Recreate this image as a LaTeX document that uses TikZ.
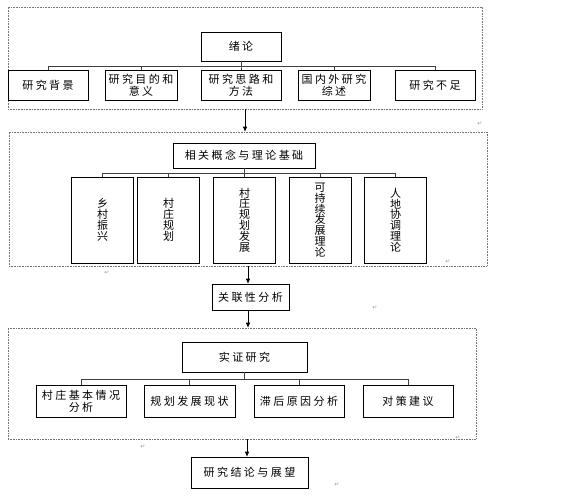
\documentclass[tikz,border=0pt]{standalone}
\usepackage{fontspec}
\usetikzlibrary{arrows.meta}
\newfontfamily\cjk[LetterSpace=22]{Noto Sans CJK SC}
\newfontfamily\cjkv{Noto Sans CJK SC}
\newfontfamily\symf{DejaVu Sans}
\begin{document}
\begin{tikzpicture}[x=1pt,y=-1pt,
  box/.style={draw, line width=0.6pt, inner sep=0pt, align=center,
    font=\cjk\fontsize{11}{12}\selectfont},
  vbox/.style={draw, line width=0.6pt, inner sep=0pt, align=center,
    minimum width=62pt, minimum height=86pt,
    font=\cjkv\fontsize{11}{10.8}\selectfont},
  frame/.style={draw=black!55, densely dotted, line width=0.6pt, inner sep=0pt},
  bus/.style={draw=black!75, line width=0.6pt},
  flow/.style={draw, line width=0.6pt, -{Latex[length=5pt,width=4.5pt]}},
  pmark/.style={text=black!40, font=\symf\fontsize{6}{6}\selectfont, inner sep=0pt}
]
\useasboundingbox (0,0) rectangle (564,499);

% ---- frame 1
\node[frame, minimum width=474pt, minimum height=102pt] (f1) at (245,58) {};
\node[box, minimum width=80pt, minimum height=29pt] (p1) at (241,46.5) {绪论};
\coordinate (b1) at (0,66);
\node[box, minimum width=80pt, minimum height=30pt] (c11) at (48,85) {研究背景};
\node[box, minimum width=72pt, minimum height=30pt] (c12) at (141,85) {研究目的和\\意义};
\node[box, minimum width=80pt, minimum height=30pt] (c13) at (241,85) {研究思路和\\方法};
\node[box, minimum width=72pt, minimum height=30pt] (c14) at (334,85) {国内外研究\\综述};
\node[box, minimum width=80pt, minimum height=30pt] (c15) at (435,85) {研究不足};
\foreach \c in {c11,c12,c13,c14,c15}
  \draw[bus] (p1.south) -- (p1.south |- b1) -| (\c.north);

% ---- frame 2
\node[frame, minimum width=478pt, minimum height=134pt] (f2) at (248,199) {};
\draw[flow] (f1.south) -- (f1.south |- f2.north);
\node[box, minimum width=142pt, minimum height=25pt] (p2) at (244,155.5) {相关概念与理论基础};
\coordinate (b2) at (0,173);
\node[vbox] (c21) at (102.5,220) {乡\\村\\振\\兴};
\node[vbox] (c22) at (168.5,220) {村\\庄\\规\\划};
\node[vbox] (c23) at (244.5,220) {村\\庄\\规\\划\\发\\展};
\node[vbox] (c24) at (320,220) {可\\持\\续\\发\\展\\理\\论};
\node[vbox] (c25) at (395.5,220) {人\\地\\协\\调\\理\\论};
\foreach \c in {c21,c22,c23,c24,c25}
  \draw[bus] (p2.south) -- (p2.south |- b2) -| (\c.north);

% ---- middle
\node[box, minimum width=77pt, minimum height=26pt] (m) at (250.5,297) {关联性分析};
\draw[flow] (f2.south) -- (f2.south |- m.north);

% ---- frame 3
\node[frame, minimum width=468pt, minimum height=111pt] (f3) at (242,383.5) {};
\draw[flow] (f2.south |- m.south) -- (f2.south |- f3.north);
\node[box, minimum width=125pt, minimum height=30pt] (p3) at (244.5,357) {实证研究};
\coordinate (b3) at (0,379);
\node[box, minimum width=90pt, minimum height=32pt] (c31) at (81,401) {村庄基本情况\\分析};
\node[box, minimum width=91pt, minimum height=32pt] (c32) at (189.5,401) {规划发展现状};
\node[box, minimum width=90pt, minimum height=32pt] (c33) at (299,401) {滞后原因分析};
\node[box, minimum width=90pt, minimum height=32pt] (c34) at (408,401) {对策建议};
\foreach \c in {c31,c32,c33,c34}
  \draw[bus] (p3.south) -- (p3.south |- b3) -| (\c.north);

% ---- end
\node[box, minimum width=117pt, minimum height=31pt] (e) at (249.5,472.5) {研究结论与展望};
\draw[flow] (f3.south -| e.north) ++(-2.5,0) coordinate (a3) (a3) -- (a3 |- e.north);

% ---- paragraph marks
\node[pmark] (k1) at (480,124) {↵};
\node[pmark] (k2) at (107,273) {↵};
\node[pmark] (k3) at (448,262) {↵};
\node[pmark] (k4) at (375,308) {↵};
\node[pmark] (k5) at (143,447) {↵};
\node[pmark] (k6) at (458,438) {↵};
\node[pmark] (k7) at (337,485) {↵};
\end{tikzpicture}
\end{document}
